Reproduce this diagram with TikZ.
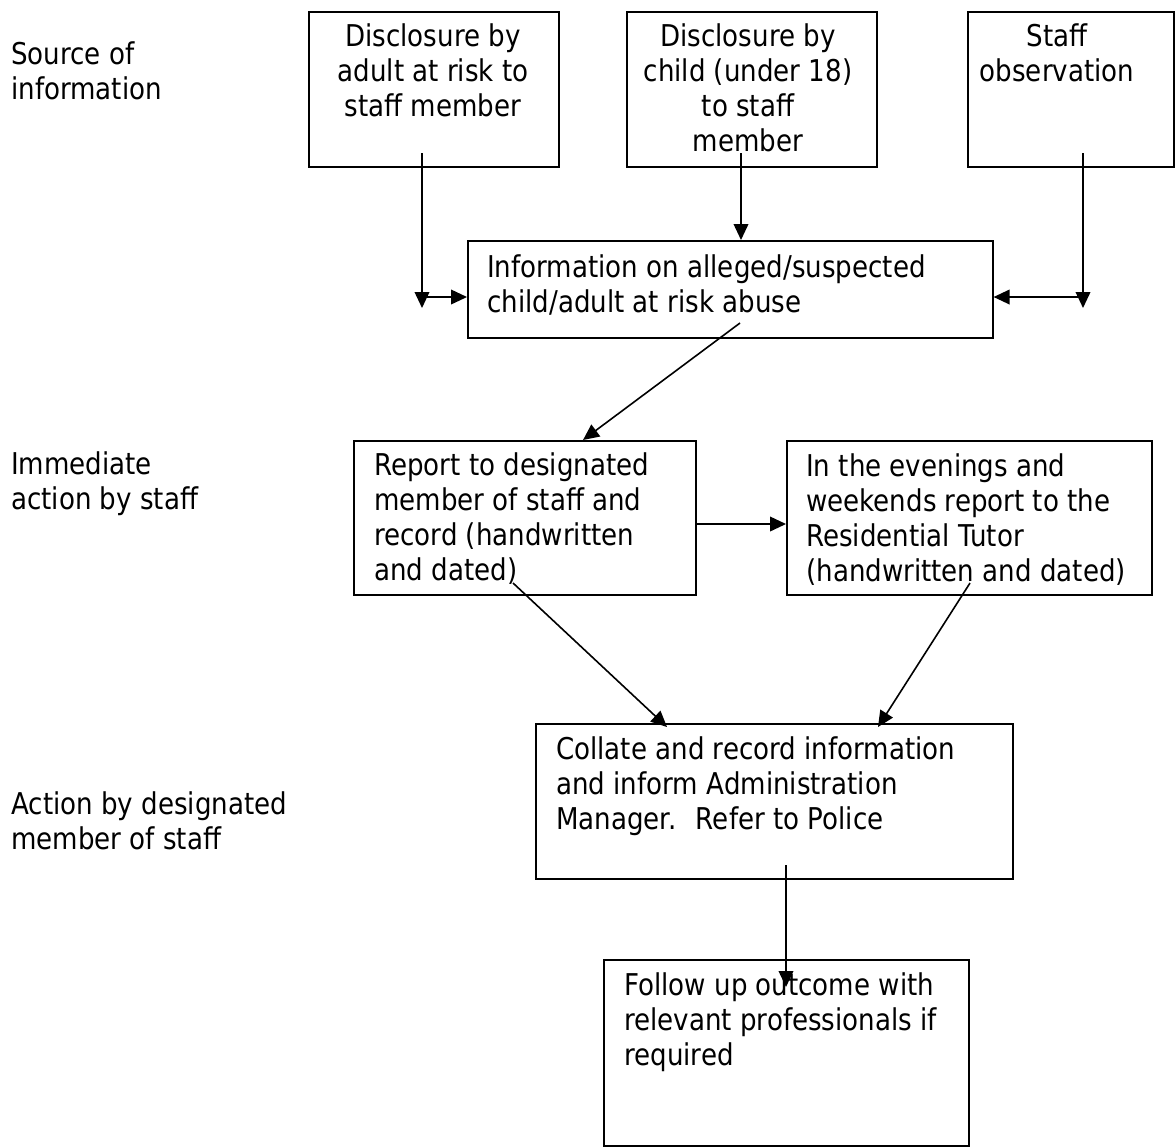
\documentclass[tikz,border=0pt]{standalone}
\usepackage{fontspec}
\setmainfont{DejaVu Sans}[FakeStretch=0.87]
\usetikzlibrary{arrows.meta}
\newcommand{\fsz}{\fontsize{22.5pt}{26.25pt}\selectfont}
\begin{document}
\begin{tikzpicture}[x=0.75pt,y=-0.75pt,
  box/.style={draw, line width=1.2pt, inner sep=0pt, anchor=north west},
  txt/.style={inner sep=0pt, font=\fsz, align=left, anchor=north west},
  ctxt/.style={inner sep=0pt, font=\fsz, align=center, anchor=north},
  arr/.style={line width=1.2pt, -{Triangle[length=12pt,width=11pt]}}]
\useasboundingbox[fill=white] (0,0) rectangle (1176,1147);

% side labels
\node[txt] (lab1) at (11,39.5) {\strut Source of\\information};
\node[txt] (lab2) at (11,449.5) {\strut Immediate\\action by staff};
\node[txt] (lab3) at (11,789.5) {\strut Action by designated\\member of staff};

% boxes
\node[box, minimum width=250*0.75pt, minimum height=155*0.75pt] (b1) at (308,11) {};
\node[ctxt] (t1) at (433,21.5) {\strut Disclosure by\\adult at risk to\\staff member};
\node[box, minimum width=250*0.75pt, minimum height=155*0.75pt] (b2) at (626,11) {};
\node[ctxt] (t2) at (748,21.5) {\strut Disclosure by\\child (under 18)\\to staff\\member};
\node[box, minimum width=206*0.75pt, minimum height=155*0.75pt] (b3) at (967,11) {};
\node[ctxt] (t3) at (1057,21.5) {\strut Staff\\observation};

\node[box, minimum width=525*0.75pt, minimum height=97*0.75pt] (info) at (467,240) {};
\node[txt] (tinfo) at (487,252.5) {\strut Information on alleged/suspected\\child/adult at risk abuse};

\node[box, minimum width=342*0.75pt, minimum height=154*0.75pt] (rep) at (353,440) {};
\node[txt] (trep) at (374,450.5) {\strut Report to designated\\member of staff and\\record (handwritten\\and dated)};

\node[box, minimum width=365*0.75pt, minimum height=154*0.75pt] (eve) at (786,440) {};
\node[txt] (teve) at (806,451.5) {\strut In the evenings and\\weekends report to the\\Residential Tutor\\(handwritten and dated)};

\node[box, minimum width=477*0.75pt, minimum height=155*0.75pt] (col) at (535,723) {};
\node[txt] (tcol) at (556,734.5) {\strut Collate and record information\\and inform Administration\\Manager.~ Refer to Police};

\node[box, minimum width=365*0.75pt, minimum height=186*0.75pt] (fol) at (603,959) {};
\node[txt] (tfol) at (624,970.5) {\strut Follow up outcome with\\relevant professionals if\\required};

% connectors
\coordinate (p1a) at (422,153);
\coordinate (p1b) at (422,308);
\coordinate (p1h) at (422,297);
\draw[arr] (p1a) -- (p1b);
\draw[arr] (p1h) -- (info.west |- p1h);

\coordinate (p2a) at (741,153);
\draw[arr] (p2a) -- (p2a |- info.north);

\coordinate (p3a) at (1083,153);
\coordinate (p3b) at (1083,308);
\coordinate (p3h) at (1083,297);
\draw[arr] (p3a) -- (p3b);
\draw[arr] (p3h) -- (info.east |- p3h);

\coordinate (p4a) at (740,323);
\coordinate (p4t) at (583,440);
\draw[arr] (p4a) -- (p4t |- rep.north);

\coordinate (p5) at (700,524);
\draw[arr] (rep.east |- p5) -- (eve.west |- p5);

\coordinate (p6a) at (513,583);
\coordinate (p6b) at (667,727);
\draw[arr] (p6a) -- (p6b);

\coordinate (p7a) at (970,583);
\coordinate (p7b) at (878,727);
\draw[arr] (p7a) -- (p7b);

\coordinate (p8a) at (786,865);
\coordinate (p8b) at (786,987);
\draw[arr] (p8a) -- (p8b);
\end{tikzpicture}
\end{document}
